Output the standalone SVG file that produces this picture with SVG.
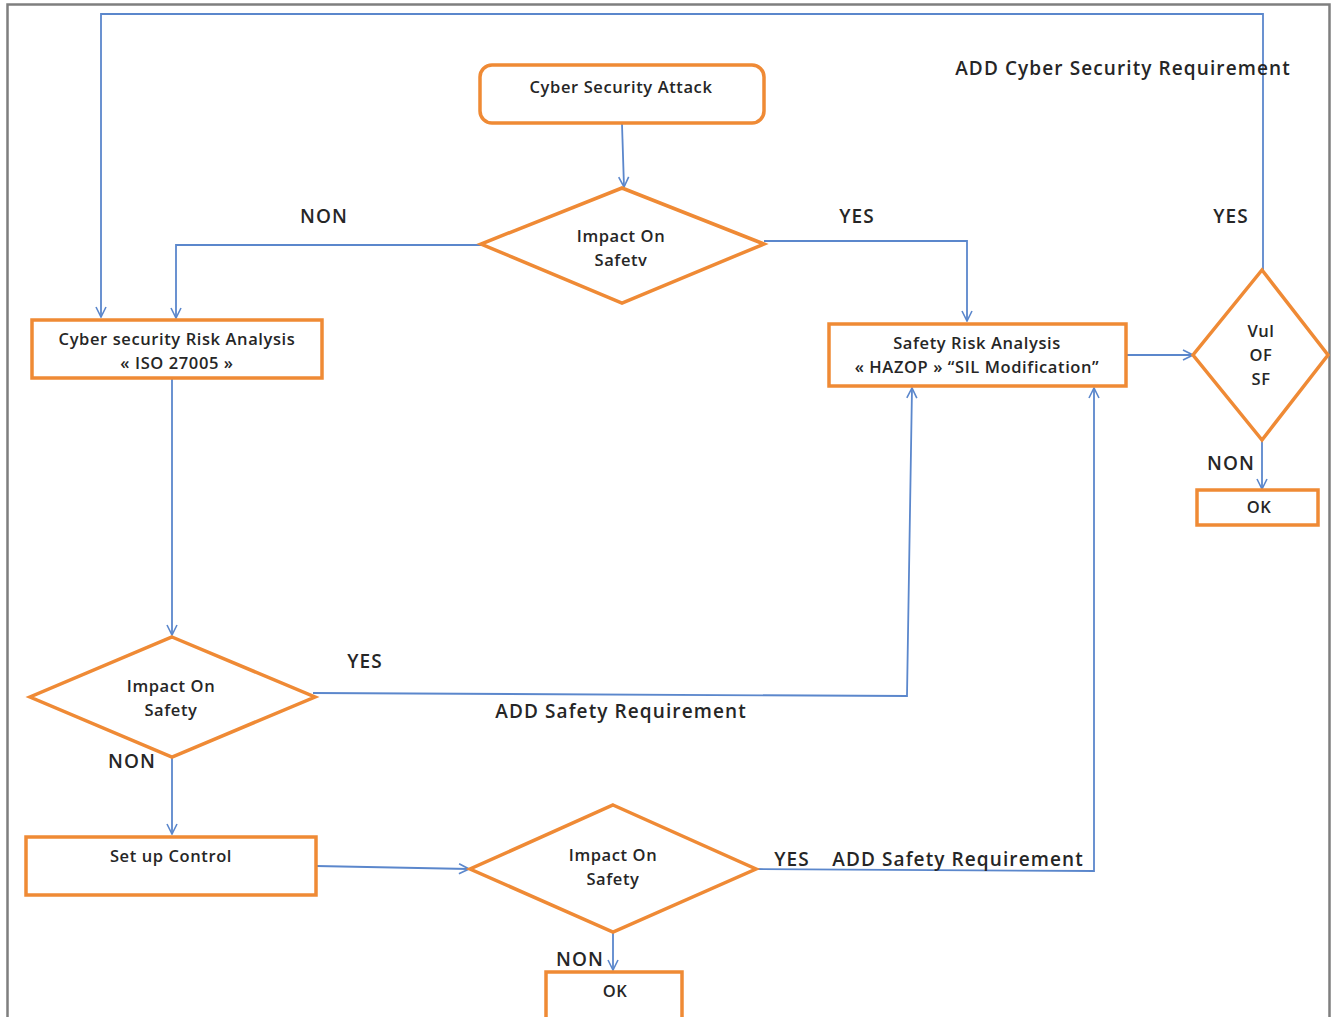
<svg xmlns="http://www.w3.org/2000/svg" width="1331" height="1017" viewBox="0 0 1331 1017">
<style>
.n{fill:#fff;stroke:#ef8a35;stroke-width:3.5}
.c{fill:none;stroke:#5b87cc;stroke-width:1.8}
.t{font-family:"Open Sans","Liberation Sans",sans-serif;font-size:16.5px;font-weight:600;letter-spacing:0.6px;fill:#262626;text-anchor:middle}
.l{font-family:"Open Sans","Liberation Sans",sans-serif;font-size:19px;font-weight:600;letter-spacing:1.1px;fill:#262626;text-anchor:middle}
</style>
<defs>
<marker id="a" viewBox="0 0 12 12" refX="11" refY="6" markerWidth="12" markerHeight="12" markerUnits="userSpaceOnUse" orient="auto">
<path d="M1,1 L11,6 L1,11" fill="none" stroke="#5b87cc" stroke-width="1.6"/>
</marker>
</defs>
<rect x="0" y="0" width="1331" height="1017" fill="#fff"/>
<path d="M7.5,1017 V4.5 H1329.5 V1017" fill="none" stroke="#7f7f7f" stroke-width="2.5"/>
<g id="connectors">
<path class="c" d="M1263,270 V14 H101 V317" marker-end="url(#a)"/>
<path class="c" d="M622,124 L624,187" marker-end="url(#a)"/>
<path class="c" d="M481,245 H176 V318" marker-end="url(#a)"/>
<path class="c" d="M764,241 H967 V321" marker-end="url(#a)"/>
<path class="c" d="M172,379 V635" marker-end="url(#a)"/>
<path class="c" d="M313,693 L907,696 L912,388" marker-end="url(#a)"/>
<path class="c" d="M172,757 V834" marker-end="url(#a)"/>
<path class="c" d="M316,866 L469,869" marker-end="url(#a)"/>
<path class="c" d="M756,869 L1094,871 V388" marker-end="url(#a)"/>
<path class="c" d="M613,932 V970" marker-end="url(#a)"/>
<path class="c" d="M1126,355 H1193" marker-end="url(#a)"/>
<path class="c" d="M1262,441 V489" marker-end="url(#a)"/>
</g>
<g id="labels">
<text class="l" x="1123" y="75">ADD Cyber Security Requirement</text>
<text class="l" x="324" y="223">NON</text>
<text class="l" x="857" y="223">YES</text>
<text class="l" x="1231" y="223">YES</text>
<text class="l" x="1231" y="470">NON</text>
<text class="l" x="365" y="668">YES</text>
<text class="l" x="621" y="718">ADD Safety Requirement</text>
<text class="l" x="132" y="768">NON</text>
<text class="l" x="792" y="866">YES</text>
<text class="l" x="958" y="866">ADD Safety Requirement</text>
<text class="l" x="580" y="966">NON</text>
</g>
<g id="attack">
<rect class="n" x="480" y="65" width="284" height="58" rx="12"/>
<text class="t" x="621" y="93">Cyber Security Attack</text>
</g>
<g id="impact1">
<polygon class="n" points="622,188 764,244 622,303 481,244"/>
<text class="t" x="621" y="242">Impact On</text>
<text class="t" x="621" y="266">Safetv</text>
</g>
<g id="cyberrisk">
<rect class="n" x="32" y="320" width="290" height="58"/>
<text class="t" x="177" y="345">Cyber security Risk Analysis</text>
<text class="t" x="177" y="369">« ISO 27005 »</text>
</g>
<g id="safetyrisk">
<rect class="n" x="829" y="324" width="297" height="62"/>
<text class="t" x="977" y="349">Safety Risk Analysis</text>
<text class="t" x="977" y="373">« HAZOP » “SIL Modification”</text>
</g>
<g id="vul">
<polygon class="n" points="1262,270 1328,355 1262,440 1193,355"/>
<text class="t" x="1261" y="337">Vul</text>
<text class="t" x="1261" y="361">OF</text>
<text class="t" x="1261" y="385">SF</text>
</g>
<g id="ok1">
<rect class="n" x="1197" y="490" width="121" height="35"/>
<text class="t" x="1259" y="513">OK</text>
</g>
<g id="impact2">
<polygon class="n" points="172,637 315,697 172,757 30,697"/>
<text class="t" x="171" y="692">Impact On</text>
<text class="t" x="171" y="716">Safety</text>
</g>
<g id="setup">
<rect class="n" x="26" y="837" width="290" height="58"/>
<text class="t" x="171" y="862">Set up Control</text>
</g>
<g id="impact3">
<polygon class="n" points="613,805 756,869 613,932 470,869"/>
<text class="t" x="613" y="861">Impact On</text>
<text class="t" x="613" y="885">Safety</text>
</g>
<g id="ok2">
<rect class="n" x="546" y="972" width="136" height="50"/>
<text class="t" x="615" y="997">OK</text>
</g>
</svg>
